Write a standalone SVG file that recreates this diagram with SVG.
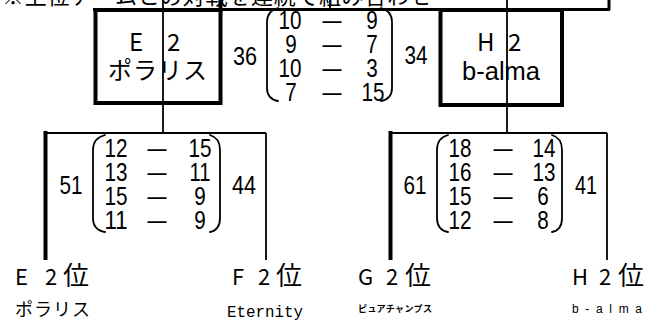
<svg xmlns="http://www.w3.org/2000/svg" width="661" height="326" viewBox="0 0 661 326">
<style>
.bg{fill:#fff}
.thick{stroke:#000;stroke-width:4;fill:none}
.bar{stroke:#000;stroke-width:3;fill:none}
.thin{stroke:#000;stroke-width:1.8;fill:none}
.par{stroke:#000;stroke-width:1.8;fill:none;stroke-linecap:round}
.num{font-family:"Liberation Sans",Arial,sans-serif;font-size:26px;fill:#000}
.jp{font-family:"Noto Sans CJK JP","Noto Sans",sans-serif;fill:#000}
.mono{font-family:"Liberation Mono","DejaVu Sans Mono",monospace;fill:#000}
</style>
<rect class="bg" x="0" y="0" width="661" height="326"/>
<g id="caption">
<text class="jp" x="2" y="4" font-size="22" textLength="430" lengthAdjust="spacing">※上位チームとの対戦を連続で組み合わせ</text>
<line class="bar" x1="93" y1="9.5" x2="610" y2="9.5"/>
<line class="bar" x1="609" y1="0" x2="609" y2="10"/>
<line class="thin" x1="330" y1="0" x2="330" y2="9"/>
</g>
<g id="connectors">
<line class="thin" x1="163" y1="0" x2="163" y2="133"/>
<line class="thin" x1="507" y1="0" x2="507" y2="133"/>
<line class="thick" x1="220.5" y1="0" x2="220.5" y2="12"/>
</g>
<g id="nodeE2">
<rect class="thick" x="95.5" y="10" width="125" height="93"/>
<text class="jp" y="51" font-size="24"><tspan x="129">E</tspan> <tspan x="167">2</tspan></text>
<text class="jp" x="108" y="79" font-size="24" letter-spacing="1">ポラリス</text>
</g>
<g id="nodeH2">
<rect class="thick" x="440.5" y="10" width="121.5" height="95"/>
<text class="jp" y="51" font-size="24"><tspan x="477">H</tspan> <tspan x="508">2</tspan></text>
<text class="num" x="462" y="80" textLength="78" lengthAdjust="spacingAndGlyphs">b-alma</text>
</g>
<g id="matchTop">
<text class="num" x="245" y="65" text-anchor="middle" textLength="24" lengthAdjust="spacingAndGlyphs">36</text>
<text class="num" x="416" y="64" text-anchor="middle" textLength="23" lengthAdjust="spacingAndGlyphs">34</text>
<path class="par" d="M278,8 Q267,11 267,22 L267,88 Q267,99 278,101"/>
<path class="par" d="M381,8 Q392,11 392,22 L392,88 Q392,99 381,101"/>
<g text-anchor="middle">
<text class="num" x="290" y="29" textLength="23" lengthAdjust="spacingAndGlyphs">10</text>
<text class="num" x="291" y="53" textLength="11.5" lengthAdjust="spacingAndGlyphs">9</text>
<text class="num" x="290" y="77" textLength="23" lengthAdjust="spacingAndGlyphs">10</text>
<text class="num" x="291" y="101" textLength="11.5" lengthAdjust="spacingAndGlyphs">7</text>
<text class="num" x="332" y="29" textLength="19" lengthAdjust="spacingAndGlyphs">—</text>
<text class="num" x="332" y="53" textLength="19" lengthAdjust="spacingAndGlyphs">—</text>
<text class="num" x="332" y="77" textLength="19" lengthAdjust="spacingAndGlyphs">—</text>
<text class="num" x="332" y="101" textLength="19" lengthAdjust="spacingAndGlyphs">—</text>
<text class="num" x="372" y="29" textLength="11.5" lengthAdjust="spacingAndGlyphs">9</text>
<text class="num" x="372" y="53" textLength="11.5" lengthAdjust="spacingAndGlyphs">7</text>
<text class="num" x="372" y="77" textLength="11.5" lengthAdjust="spacingAndGlyphs">3</text>
<text class="num" x="373" y="101" textLength="23" lengthAdjust="spacingAndGlyphs">15</text>
</g>
</g>
<g id="matchLeft">
<line class="thin" x1="44" y1="133" x2="266" y2="133"/>
<line class="thick" x1="45.5" y1="131" x2="45.5" y2="260" stroke-width="5"/>
<line class="thin" x1="266" y1="133" x2="266" y2="260"/>
<text class="num" x="71" y="194" text-anchor="middle" textLength="23" lengthAdjust="spacingAndGlyphs">51</text>
<text class="num" x="244" y="194" text-anchor="middle" textLength="24" lengthAdjust="spacingAndGlyphs">44</text>
<path class="par" d="M105,135 Q93,138 93,150 L93,218 Q93,230 105,232"/>
<path class="par" d="M210,135 Q220,138 220,150 L220,218 Q220,230 210,232"/>
<g text-anchor="middle">
<text class="num" x="116" y="157" textLength="23" lengthAdjust="spacingAndGlyphs">12</text>
<text class="num" x="116" y="181" textLength="23" lengthAdjust="spacingAndGlyphs">13</text>
<text class="num" x="116" y="205" textLength="23" lengthAdjust="spacingAndGlyphs">15</text>
<text class="num" x="116" y="229" textLength="23" lengthAdjust="spacingAndGlyphs">11</text>
<text class="num" x="157" y="157" textLength="19" lengthAdjust="spacingAndGlyphs">—</text>
<text class="num" x="157" y="181" textLength="19" lengthAdjust="spacingAndGlyphs">—</text>
<text class="num" x="157" y="205" textLength="19" lengthAdjust="spacingAndGlyphs">—</text>
<text class="num" x="157" y="229" textLength="19" lengthAdjust="spacingAndGlyphs">—</text>
<text class="num" x="200" y="157" textLength="23" lengthAdjust="spacingAndGlyphs">15</text>
<text class="num" x="200" y="181" textLength="21" lengthAdjust="spacingAndGlyphs">11</text>
<text class="num" x="200" y="205" textLength="11.5" lengthAdjust="spacingAndGlyphs">9</text>
<text class="num" x="200" y="229" textLength="11.5" lengthAdjust="spacingAndGlyphs">9</text>
</g>
</g>
<g id="matchRight">
<line class="thin" x1="389" y1="133" x2="607" y2="133"/>
<line class="thick" x1="390.5" y1="131" x2="390.5" y2="260" stroke-width="5"/>
<line class="thin" x1="607" y1="133" x2="607" y2="260"/>
<text class="num" x="415" y="194" text-anchor="middle" textLength="23" lengthAdjust="spacingAndGlyphs">61</text>
<text class="num" x="586" y="194" text-anchor="middle" textLength="22" lengthAdjust="spacingAndGlyphs">41</text>
<path class="par" d="M448,135 Q437,138 437,150 L437,218 Q437,230 448,232"/>
<path class="par" d="M552,135 Q562,138 562,150 L562,218 Q562,230 552,232"/>
<g text-anchor="middle">
<text class="num" x="460" y="157" textLength="23" lengthAdjust="spacingAndGlyphs">18</text>
<text class="num" x="460" y="181" textLength="23" lengthAdjust="spacingAndGlyphs">16</text>
<text class="num" x="460" y="205" textLength="23" lengthAdjust="spacingAndGlyphs">15</text>
<text class="num" x="460" y="229" textLength="23" lengthAdjust="spacingAndGlyphs">12</text>
<text class="num" x="503" y="157" textLength="19" lengthAdjust="spacingAndGlyphs">—</text>
<text class="num" x="503" y="181" textLength="19" lengthAdjust="spacingAndGlyphs">—</text>
<text class="num" x="503" y="205" textLength="19" lengthAdjust="spacingAndGlyphs">—</text>
<text class="num" x="503" y="229" textLength="19" lengthAdjust="spacingAndGlyphs">—</text>
<text class="num" x="544" y="157" textLength="23" lengthAdjust="spacingAndGlyphs">14</text>
<text class="num" x="544" y="181" textLength="23" lengthAdjust="spacingAndGlyphs">13</text>
<text class="num" x="543" y="205" textLength="11.5" lengthAdjust="spacingAndGlyphs">6</text>
<text class="num" x="543" y="229" textLength="11.5" lengthAdjust="spacingAndGlyphs">8</text>
</g>
</g>
<g id="labelE">
<text class="jp" y="285" font-size="22"><tspan x="15">E</tspan> <tspan x="45">2</tspan><tspan x="63" font-size="26">位</tspan></text>
<text class="jp" x="15" y="316" font-size="18" letter-spacing="1">ポラリス</text>
</g>
<g id="labelF">
<text class="jp" y="285" font-size="22"><tspan x="232">F</tspan> <tspan x="258">2</tspan><tspan x="276" font-size="26">位</tspan></text>
<text class="mono" x="227" y="317" font-size="17" textLength="76" lengthAdjust="spacingAndGlyphs">Eternity</text>
</g>
<g id="labelG">
<text class="jp" y="285" font-size="22"><tspan x="358">G</tspan> <tspan x="386">2</tspan><tspan x="405" font-size="26">位</tspan></text>
<text class="jp" x="358" y="312" font-size="9" font-weight="bold" textLength="74" lengthAdjust="spacing">ピュアチャンプス</text>
</g>
<g id="labelH">
<text class="jp" y="285" font-size="22"><tspan x="572">H</tspan> <tspan x="599">2</tspan><tspan x="618" font-size="26">位</tspan></text>
<text x="572" y="313" style="font-family:'Liberation Sans',Arial,sans-serif;font-size:12px" fill="#000" textLength="70" lengthAdjust="spacing">b-alma</text>
</g>
</svg>
